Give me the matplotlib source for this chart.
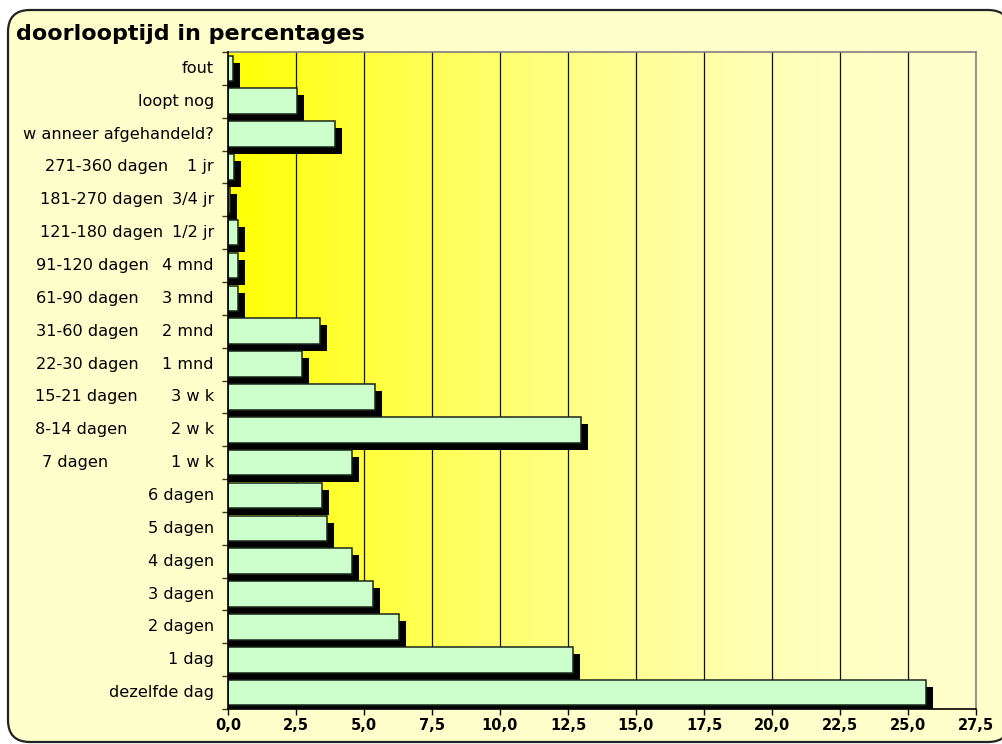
import numpy as np
import matplotlib
matplotlib.use("Agg")
import matplotlib.pyplot as plt
from matplotlib import transforms
from matplotlib.patches import FancyBboxPatch

# ---- data (bottom category first) ----
label_left = [
    "", "", "", "", "", "", "",
    "7 dagen", "8-14 dagen", "15-21 dagen", "22-30 dagen", "31-60 dagen",
    "61-90 dagen", "91-120 dagen", "121-180 dagen", "181-270 dagen", "271-360 dagen",
    "", "", "",
]
label_right = [
    "dezelfde dag", "1 dag", "2 dagen", "3 dagen", "4 dagen", "5 dagen", "6 dagen",
    "1 w k", "2 w k", "3 w k", "1 mnd", "2 mnd",
    "3 mnd", "4 mnd", "1/2 jr", "3/4 jr", "1 jr",
    "w anneer afgehandeld?", "loopt nog", "fout",
]
percentages = [
    25.65, 12.70, 6.30, 5.32, 4.55, 3.63, 3.44,
    4.56, 12.97, 5.39, 2.72, 3.40,
    0.36, 0.36, 0.36, 0.08, 0.23,
    3.93, 2.55, 0.17,
]
x_ticks = [0.0, 2.5, 5.0, 7.5, 10.0, 12.5, 15.0, 17.5, 20.0, 22.5, 25.0, 27.5]
x_tick_labels = ["0,0", "2,5", "5,0", "7,5", "10,0", "12,5", "15,0",
                 "17,5", "20,0", "22,5", "25,0", "27,5"]
title = "doorlooptijd in percentages"

# left-part x offsets (pixels) for the two-part labels
left_px = {
    "7 dagen": 42, "8-14 dagen": 35, "15-21 dagen": 35, "22-30 dagen": 36,
    "31-60 dagen": 36, "61-90 dagen": 36, "91-120 dagen": 36,
    "121-180 dagen": 40.5, "181-270 dagen": 40.5, "271-360 dagen": 45,
}

W, H = 1003, 744
fig = plt.figure(figsize=(W / 100, H / 100), dpi=100)
fig.patch.set_facecolor("white")

# rounded chart frame
frame = FancyBboxPatch((8, 2), 1010 - 8, 732,
                       boxstyle="round,pad=0,rounding_size=22",
                       transform=transforms.IdentityTransform(),
                       facecolor="#FFFFCC", edgecolor="#222222", linewidth=1.6,
                       zorder=-10)
fig.patches.append(frame)

ax = fig.add_axes([228 / W, 1 - 709 / H, (976 - 228) / W, (709 - 52) / H])
ax.set_facecolor("none")
ax.set_zorder(1)

n = len(percentages)
ypos = np.arange(n)

# horizontal yellow gradient background
t = np.linspace(0, 1, 256)
blue = 1 - (1 - t) ** 1.7
grad_colors = np.stack([np.ones_like(t), np.ones_like(t), 0.8 * blue], axis=1)
ax.imshow(grad_colors[np.newaxis, :, :], extent=[0, 1, 0, 1],
          transform=ax.transAxes, aspect="auto", zorder=0)

# vertical gridlines
for xv in x_ticks[1:-1]:
    ax.axvline(xv, color="#111111", linewidth=0.9, zorder=1)

# bars with drop shadow
bar_h = 0.78
pad = 0.3
shadow_tr = transforms.offset_copy(ax.transData, fig=fig, x=7, y=-7, units="dots")
vals = np.array(percentages)
ax.barh(ypos, vals + pad, left=-pad, height=bar_h, color="black",
        transform=shadow_tr, zorder=2)
ax.barh(ypos, vals, height=bar_h, color="#CCFFCC", edgecolor="#1a261a",
        linewidth=1.1, zorder=3)
ax.set_xlim(0, 27.5)
ax.set_ylim(-0.5, n - 0.5)

# spines
for s in ("top", "right"):
    ax.spines[s].set_color("#808080")
    ax.spines[s].set_linewidth(1.2)
for s in ("left", "bottom"):
    ax.spines[s].set_color("black")
    ax.spines[s].set_linewidth(1.2)
    ax.spines[s].set_zorder(5)

ax.set_xticks(x_ticks)
ax.set_xticklabels(x_tick_labels, fontsize=10.5, fontweight="bold")
ax.tick_params(axis="x", direction="out", length=4, width=1, color="black", pad=2.5)
ax.set_yticks([])
ax.set_yticks(np.arange(-0.5, n, 1), minor=True)
ax.tick_params(axis="y", which="minor", direction="out", length=4, width=1,
               color="#3a3a10")

# category labels
lab_tr = transforms.blended_transform_factory(fig.transFigure, ax.transData)
for i in range(n):
    ax.text(214 / W, ypos[i], label_right[i], transform=lab_tr,
            ha="right", va="center", fontsize=11.6, color="black")
    if label_left[i]:
        ax.text(left_px[label_left[i]] / W, ypos[i], label_left[i],
                transform=lab_tr, ha="left", va="center", fontsize=11.6,
                color="black")

fig.text(16 / W, 1 - 40 / H, title, ha="left", va="baseline",
         fontsize=16, fontweight="bold", color="black")

fig.savefig("out.png", dpi=100)
